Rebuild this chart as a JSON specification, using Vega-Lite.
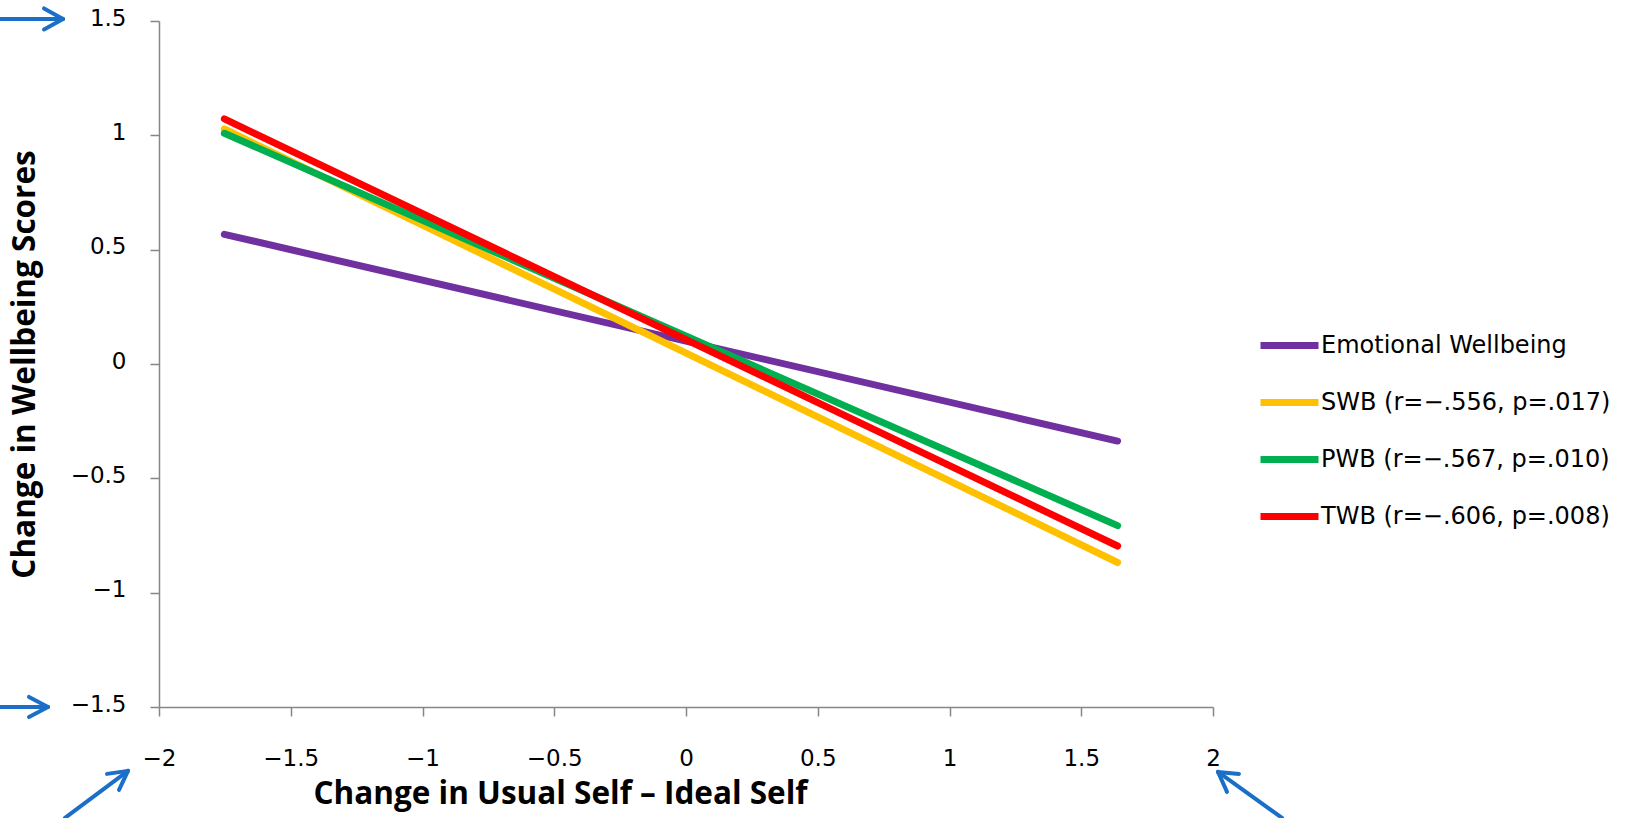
{
  "$schema": "https://vega.github.io/schema/vega-lite/v6.json",
  "autosize": {"type": "none"},
  "padding": {"left": 159, "top": 21, "right": 420, "bottom": 111},
  "width": 1054,
  "height": 686,
  "background": "white",
  "config": {
    "view": {"stroke": null},
    "axis": {
      "grid": false,
      "domainColor": "#868686",
      "domainWidth": 1.5,
      "tickColor": "#868686",
      "tickWidth": 1.5,
      "tickSize": 9,
      "labelFont": "DejaVu Sans",
      "labelFontSize": 23,
      "labelColor": "#000000",
      "titleFont": "Open Sans",
      "titleFontWeight": "bold",
      "titleFontSize": 31.5,
      "titleColor": "#000000"
    },
    "axisX": {
      "labelPadding": 31,
      "labelFlush": false,
      "titleX": 401,
      "titleY": 96,
      "titleBaseline": "alphabetic",
      "titleAlign": "center",
      "titleAnchor": null
    },
    "axisY": {
      "labelPadding": 24,
      "labelOffset": -3,
      "labelFlush": false,
      "titleAngle": -90,
      "titleX": -125,
      "titleY": 343,
      "titleBaseline": "alphabetic",
      "titleAlign": "center"
    },
    "legend": {
      "labelFont": "DejaVu Sans",
      "labelFontSize": 24,
      "labelColor": "#000000",
      "labelLimit": 500
    }
  },
  "datasets": {
    "lines": [
      {"series": "Emotional Wellbeing", "x": -1.752, "y": 0.567},
      {"series": "Emotional Wellbeing", "x": 1.638, "y": -0.337},
      {"series": "SWB (r=−.556, p=.017)", "x": -1.752, "y": 1.028},
      {"series": "SWB (r=−.556, p=.017)", "x": 1.638, "y": -0.868},
      {"series": "PWB (r=−.567, p=.010)", "x": -1.752, "y": 1.009},
      {"series": "PWB (r=−.567, p=.010)", "x": 1.638, "y": -0.707},
      {"series": "TWB (r=−.606, p=.008)", "x": -1.752, "y": 1.072},
      {"series": "TWB (r=−.606, p=.008)", "x": 1.638, "y": -0.796}
    ],
    "arrows": [
      {"x": -2.6034, "y": 1.509, "x2": -2.3643, "y2": 1.509},
      {"x": -2.3643, "y": 1.509, "x2": -2.4364, "y2": 1.555},
      {"x": -2.3643, "y": 1.509, "x2": -2.4364, "y2": 1.463},
      {"x": -2.6034, "y": -1.5, "x2": -2.4213, "y2": -1.5},
      {"x": -2.4213, "y": -1.5, "x2": -2.4934, "y2": -1.456},
      {"x": -2.4213, "y": -1.5, "x2": -2.4934, "y2": -1.544},
      {"x": -2.3567, "y": -1.985, "x2": -2.1176, "y2": -1.7794},
      {"x": -2.1176, "y": -1.7794, "x2": -2.1973, "y2": -1.7925},
      {"x": -2.1176, "y": -1.7794, "x2": -2.1518, "y2": -1.8625},
      {"x": 2.2619, "y": -1.985, "x2": 2.019, "y2": -1.7838},
      {"x": 2.019, "y": -1.7838, "x2": 2.0987, "y2": -1.7925},
      {"x": 2.019, "y": -1.7838, "x2": 2.0531, "y2": -1.8712}
    ]
  },
  "layer": [
    {
      "data": {"name": "lines"},
      "mark": {"type": "line", "strokeWidth": 7, "strokeCap": "round"},
      "encoding": {
        "x": {
          "field": "x", "type": "quantitative",
          "scale": {"domain": [-2, 2], "nice": false, "zero": false},
          "title": "Change in Usual Self – Ideal Self",
          "axis": {"values": [-2, -1.5, -1, -0.5, 0, 0.5, 1, 1.5, 2], "format": ".1~f"}
        },
        "y": {
          "field": "y", "type": "quantitative",
          "scale": {"domain": [-1.5, 1.5], "nice": false, "zero": false},
          "title": "Change in Wellbeing Scores",
          "axis": {"values": [-1.5, -1, -0.5, 0, 0.5, 1, 1.5], "format": ".1~f"}
        },
        "color": {
          "field": "series",
          "type": "nominal",
          "scale": {
            "domain": ["Emotional Wellbeing", "SWB (r=−.556, p=.017)", "PWB (r=−.567, p=.010)", "TWB (r=−.606, p=.008)"],
            "range": ["#7030A0", "#FFC000", "#00B050", "#FF0000"]
          },
          "legend": {
            "title": null,
            "orient": "none",
            "legendX": 1098,
            "legendY": 292,
            "padding": 0,
            "symbolType": "stroke",
            "symbolSize": 3364,
            "symbolStrokeWidth": 7,
            "labelOffset": -1,
            "rowPadding": 10
          }
        }
      }
    },
    {
      "data": {"name": "arrows"},
      "mark": {"type": "rule", "color": "#1B6FC8", "strokeWidth": 4, "strokeCap": "round"},
      "encoding": {
        "x": {"field": "x", "type": "quantitative", "title": "Change in Usual Self – Ideal Self"},
        "y": {"field": "y", "type": "quantitative", "title": "Change in Wellbeing Scores"},
        "x2": {"field": "x2"},
        "y2": {"field": "y2"}
      }
    }
  ]
}
